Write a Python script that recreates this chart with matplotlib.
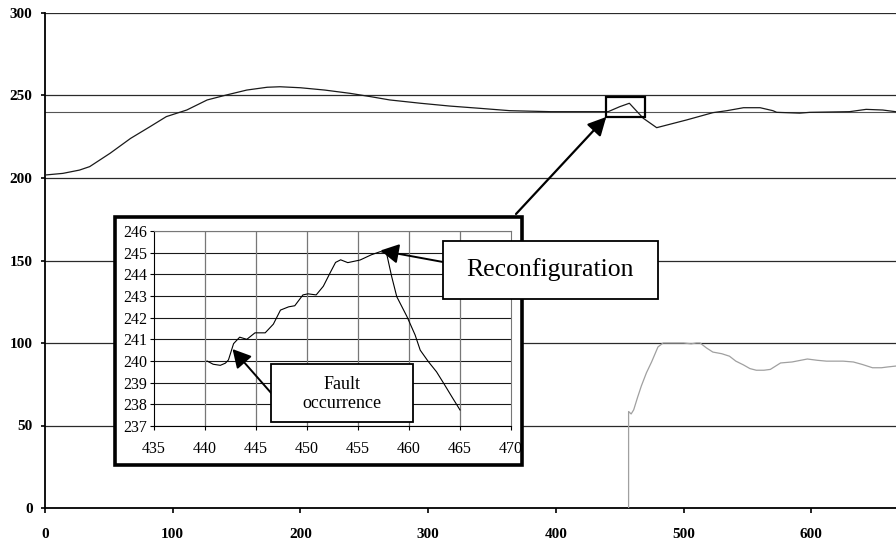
import matplotlib
matplotlib.use("Agg")
import matplotlib.pyplot as plt
from matplotlib.patches import Rectangle

# ---- data ----
main_x = [0, 14, 27, 35, 51, 67, 82, 95, 111, 127, 142, 158, 174, 184, 200, 219, 239, 255, 270,
          294, 317, 341, 364, 396, 429, 441, 450, 457.6, 468.5, 479, 487, 502.5, 523, 534, 547,
          560, 570, 573, 591, 599, 630, 643, 656, 666]
main_y = [201.8, 202.8, 204.8, 206.9, 215, 224, 231, 237.2, 241.2, 247.3, 250.3, 253.3, 255, 255.3,
          254.7, 253.3, 251.3, 249.3, 247.3, 245.3, 243.6, 242.2, 240.8, 240.2, 240.2, 240.2, 243.2,
          245.3, 236.2, 230.5, 232.1, 235.2, 239.6, 240.8, 242.6, 242.6, 240.8, 239.8, 239.3, 239.8,
          240.2, 241.6, 241.2, 240.2]

gray_x = [457, 457, 459, 461, 464, 467, 471, 475, 480, 484, 490, 500, 506, 510, 513, 518, 523, 530,
          536, 541, 547, 552, 557, 563, 568, 576, 585, 597, 605, 612, 625, 633, 640, 648, 655, 660, 666]
gray_y = [0, 58.5, 57, 59.5, 67, 74, 82, 88.5, 97.6, 100, 100, 100, 99.5, 100, 100, 97, 94.5, 93.5,
          92, 89, 86.7, 84.5, 83.5, 83.5, 84, 87.9, 88.5, 90.3, 89.5, 89, 89, 88.5, 87, 85, 85, 85.5, 86]

inset_x = [440.2, 440.8, 441.5, 442.0, 442.3, 442.8, 443.4, 444.1, 444.9, 445.9, 446.7, 447.4, 448.2,
           448.8, 449.6, 450.1, 450.9, 451.6, 452.3, 452.8, 453.3, 454.0, 455.2, 456.3, 457.2, 457.8,
           458.3, 458.8, 459.8, 460.6, 461.1, 461.9, 462.7, 463.4, 464.2, 465.0]
inset_y = [240.0, 239.85, 239.8, 239.9, 240.05, 240.8, 241.1, 241.0, 241.3, 241.3, 241.7, 242.35, 242.5,
           242.55, 243.05, 243.1, 243.05, 243.45, 244.1, 244.55, 244.67, 244.54, 244.66, 244.9, 245.05,
           244.97, 243.9, 242.97, 242.05, 241.2, 240.5, 239.97, 239.5, 238.97, 238.35, 237.74]

main_xticks = [0, 100, 200, 300, 400, 500, 600]
main_yticks = [0, 50, 100, 150, 200, 250, 300]
ref_level = 240
inset_xticks = [435, 440, 445, 450, 455, 460, 465, 470]
inset_yticks = [237, 238, 239, 240, 241, 242, 243, 244, 245, 246]
zoom_box = (439.5, 237, 470, 249)
reconf_point = (457.2, 245.1)
fault_point = (442.7, 240.55)

W, H = 896, 545
fig = plt.figure(figsize=(W / 100, H / 100), dpi=100)
serif = "Liberation Serif"

def fx(px):
    return px / W

def fy(py):
    return (H - py) / H

# ---- main axes ----
ax = fig.add_axes([fx(45), fy(508), 1 - fx(45), (508 - 13) / H])
ax.set_xlim(0, (896 - 45) / 1.277)
ax.set_ylim(0, 300)
for yv in main_yticks[1:]:
    ax.axhline(yv, color="#2a2a2a", lw=0.9, zorder=1)
ax.axhline(ref_level, color="#555555", lw=0.8, zorder=1)
ax.plot(main_x, main_y, color="#1a1a1a", lw=0.9, zorder=3)
ax.plot(gray_x, gray_y, color="#a0a0a0", lw=0.9, zorder=3)
ax.add_patch(Rectangle((zoom_box[0], zoom_box[1]), zoom_box[2] - zoom_box[0], zoom_box[3] - zoom_box[1],
                       fill=False, ec="black", lw=1.6, zorder=4))
ax.set_xticks(main_xticks)
ax.set_yticks(main_yticks)
for s in ["top", "right"]:
    ax.spines[s].set_visible(False)
ax.spines["left"].set_linewidth(1.3)
ax.spines["bottom"].set_linewidth(1.3)
ax.tick_params(axis="x", direction="out", length=3.5, width=1.2, pad=11)
ax.tick_params(axis="y", direction="out", length=3, width=1.2, pad=6)
for lab in ax.get_xticklabels() + ax.get_yticklabels():
    lab.set_fontfamily(serif)
    lab.set_fontweight("bold")
    lab.set_fontsize(11)

ax.annotate("", xy=(zoom_box[0], zoom_box[1]), xycoords="data",
            xytext=(fx(516), fy(214)), textcoords="figure fraction",
            arrowprops=dict(arrowstyle="-|>,head_length=0.55,head_width=0.28", mutation_scale=20,
                            color="black", lw=1.6, shrinkA=0, shrinkB=0), zorder=5)

# ---- inset frame ----
frame = Rectangle((fx(115), fy(465)), fx(522) - fx(115), fy(217) - fy(465), transform=fig.transFigure,
                  facecolor="white", edgecolor="black", lw=2.6, zorder=1)
fig.patches.append(frame)

# ---- inset axes ----
ia = fig.add_axes([fx(154), fy(426), fx(511) - fx(154), (426 - 231) / H], zorder=2)
ia.set_xlim(435, 470)
ia.set_ylim(237, 246)
ia.set_xticks(inset_xticks)
ia.set_yticks(inset_yticks)
for yv in inset_yticks:
    ia.axhline(yv, color="#1a1a1a", lw=0.8, zorder=1)
for xv in inset_xticks[1:-1]:
    ia.axvline(xv, color="#777777", lw=0.9, zorder=1)
ia.plot(inset_x, inset_y, color="black", lw=0.8, zorder=3)
ia.spines["top"].set_color("#777777")
ia.spines["right"].set_color("#777777")
ia.spines["left"].set_color("black")
ia.spines["bottom"].set_color("black")
ia.tick_params(direction="out", length=3, width=0.8, labelsize=11.5, pad=2)
for lab in ia.get_xticklabels() + ia.get_yticklabels():
    lab.set_fontfamily(serif)
ia.tick_params(axis="x", pad=8)

ia.annotate("", xy=reconf_point, xycoords="data",
            xytext=(fx(443), fy(262)), textcoords="figure fraction",
            arrowprops=dict(arrowstyle="-|>,head_length=0.55,head_width=0.3", mutation_scale=20,
                            color="black", lw=1.4, shrinkA=0, shrinkB=0), zorder=5)
ia.annotate("", xy=fault_point, xycoords="data",
            xytext=(fx(272), fy(394)), textcoords="figure fraction",
            arrowprops=dict(arrowstyle="-|>,head_length=0.55,head_width=0.3", mutation_scale=20,
                            color="black", lw=1.4, shrinkA=0, shrinkB=0), zorder=5)

# ---- text boxes ----
rbox = Rectangle((fx(443), fy(299)), fx(658) - fx(443), fy(241) - fy(299), transform=fig.transFigure,
                 facecolor="white", edgecolor="black", lw=1.3, zorder=5)
fig.patches.append(rbox)
fig.text((fx(443) + fx(658)) / 2, (fy(241) + fy(299)) / 2, "Reconfiguration", ha="center", va="center",
         fontfamily=serif, fontsize=18.5, zorder=6)

fbox = Rectangle((fx(271), fy(422)), fx(413) - fx(271), fy(364) - fy(422), transform=fig.transFigure,
                 facecolor="white", edgecolor="black", lw=1.3, zorder=5)
fig.patches.append(fbox)
fig.text((fx(271) + fx(413)) / 2, (fy(364) + fy(422)) / 2 - 0.002, "Fault\noccurrence", ha="center",
         va="center", fontfamily=serif, fontsize=13, linespacing=1.2, zorder=6)

fig.savefig("out.png", dpi=100)
